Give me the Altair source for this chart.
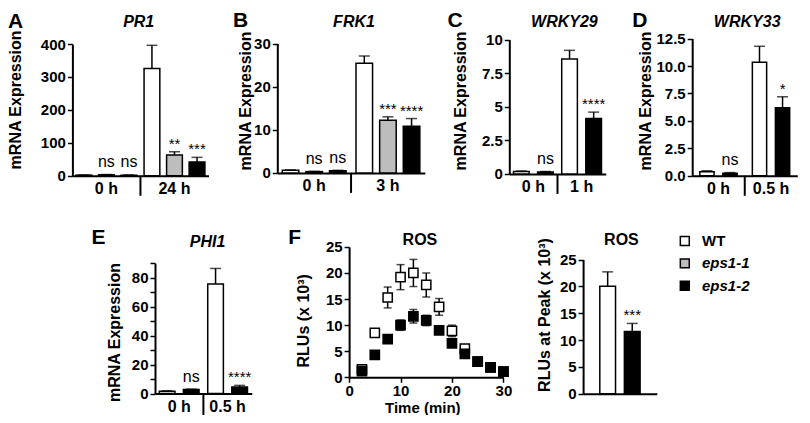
import altair as alt
import pandas as pd

FONT = "Liberation Sans, Arial, Helvetica, sans-serif"
W, H = 794, 407


def cx(rx):
    return round((rx - 3) * 0.983, 1)


def cy(ry):
    return round((ry - 0.5) * 0.973, 1)


GENO3 = ["WT", "eps1-1", "eps1-2"]
GENO2 = ["WT", "eps1-2"]
FILLS = ["#ffffff", "#bdbdbd", "#000000"]

# A  PR1
pr1_groups = ["0 h", "24 h"]
pr1_mean = [2, 3, 2, 326, 63, 42]
pr1_err = [0.6, 0.8, 0.6, 70, 10, 14]
pr1_sig = ["", "ns", "ns", "", "**", "***"]

# B  FRK1
frk1_groups = ["0 h", "3 h"]
frk1_mean = [0.6, 0.3, 0.5, 25.4, 12.2, 10.8]
frk1_err = [0.1, 0.05, 0.1, 1.7, 0.8, 1.8]
frk1_sig = ["", "ns", "ns", "", "***", "****"]

# C  WRKY29
wrky29_groups = ["0 h", "1 h"]
wrky29_mean = [0.18, 0.15, 8.55, 4.13]
wrky29_err = [0.03, 0.03, 0.65, 0.47]
wrky29_sig = ["", "ns", "", "****"]

# D  WRKY33
wrky33_groups = ["0 h", "0.5 h"]
wrky33_mean = [0.38, 0.24, 10.35, 6.2]
wrky33_err = [0.08, 0.05, 1.45, 1.0]
wrky33_sig = ["", "ns", "", "*"]

# E  PHI1
phi1_groups = ["0 h", "0.5 h"]
phi1_mean = [1.6, 2.7, 75.6, 4.5]
phi1_err = [0.3, 0.3, 10.7, 1.1]
phi1_sig = ["", "ns", "", "****"]

# F  ROS time course
ros_time = [2.5, 5, 7.5, 10, 12.5, 15, 17.5, 20, 22.5, 25, 27.5, 30]
ros_wt = [1.5, 8.5, 15.3, 19.2, 20.0, 17.7, 13.5, 8.9, 5.5, 3.0, 1.9, 1.1]
ros_wt_err = [0.3, 0.7, 2.0, 2.4, 2.6, 2.3, 1.6, 1.1, 0.5, 0.3, 0.2, 0.2]
ros_eps = [1.2, 4.3, 7.3, 10.0, 11.7, 10.9, 9.0, 6.5, 4.5, 3.0, 1.9, 1.1]
ros_eps_err = [0.2, 0.4, 0.6, 1.0, 1.3, 1.0, 0.6, 0.5, 0.4, 0.3, 0.2, 0.2]

# F  ROS at peak
peak_mean = [20.0, 11.6]
peak_err = [2.7, 1.5]
peak_sig = ["", "***"]

fill_scale = alt.Scale(domain=GENO3, range=FILLS)

AXSTYLE = dict(labelFont=FONT, labelFontSize=15, labelFontWeight="bold",
               labelColor="black", domainColor="black", domainWidth=2,
               tickColor="black", tickWidth=1.5, tickSize=5, grid=False,
               labelPadding=2, labelFlush=False, labelOverlap=False, title=None)


def axis(**kw):
    d = dict(AXSTYLE)
    d.update(kw)
    return alt.Axis(**d)


def bar_panel(groups, genos, mean, err, sig, xr, y0, ytop, ymax, ticks, fmt,
              pi, po, div_len=20, label_expr=None):
    df = pd.DataFrame({
        "t": [g for g in groups for _ in genos],
        "g": genos * len(groups),
        "v": mean, "e": err, "s": sig})
    df["top"] = df["v"] + df["e"]
    xs = alt.Scale(domain=groups, range=[cx(xr[0]), cx(xr[1])],
                   paddingInner=0, paddingOuter=0)
    offs = alt.Scale(domain=genos, paddingInner=pi, paddingOuter=po)
    ys = alt.Scale(domain=[0, ymax], range=[cy(y0), cy(ytop)], nice=False, zero=True)
    x_ax = alt.X("t:N", sort=groups, scale=xs,
                 axis=axis(orient="bottom", offset=round(cy(y0) - H, 1), ticks=False,
                           tickSize=0, labelAngle=0, labelPadding=5, labelFontSize=16))
    x_no = alt.X("t:N", sort=groups, scale=xs)
    xo = alt.XOffset("g:N", sort=genos, scale=offs)
    yk = dict(orient="left", offset=-cx(xr[0]), values=ticks)
    if fmt:
        yk["format"] = fmt
    if label_expr:
        yk["labelExpr"] = label_expr
    base = alt.Chart(df)
    bars = base.mark_bar(stroke="black", strokeWidth=1.5).encode(
        x=x_ax, xOffset=xo, y=alt.Y("v:Q", scale=ys, axis=axis(**yk)),
        fill=alt.Fill("g:N", scale=fill_scale, legend=None))
    rule = base.mark_rule(color="black", strokeWidth=1.5).encode(
        x=x_no, xOffset=xo, y=alt.Y("v:Q", scale=ys), y2="top:Q")
    cap = base.mark_tick(color="black", thickness=1.5, size=11, orient="horizontal").encode(
        x=x_no, xOffset=xo, y=alt.Y("top:Q", scale=ys))
    ns = base.transform_filter("datum.s == 'ns'").mark_text(
        font=FONT, fontSize=16, baseline="alphabetic", dy=-7.5, color="black").encode(
        x=x_no, xOffset=xo, y=alt.Y("top:Q", scale=ys), text="s:N")
    stars = base.transform_filter("datum.s != 'ns' && datum.s != ''").mark_text(
        font=FONT, fontSize=15, baseline="alphabetic", dy=-3, color="black").encode(
        x=x_no, xOffset=xo, y=alt.Y("top:Q", scale=ys), text="s:N")
    div = alt.Chart(pd.DataFrame({"t": [groups[1]]})).mark_rule(
        color="black", strokeWidth=2).encode(
        x=alt.X("t:N", sort=groups, scale=xs, bandPosition=0),
        y=alt.value(cy(y0)), y2=alt.value(round(cy(y0) + div_len, 1)))
    return alt.layer(bars, rule, cap, ns, stars, div)


def ros_line():
    n = len(ros_time)
    df = pd.DataFrame({"t": ros_time * 2, "g": ["WT"] * n + ["eps1-2"] * n,
                       "v": ros_wt + ros_eps, "e": ros_wt_err + ros_eps_err})
    df["lo"] = df["v"] - df["e"]
    df["hi"] = df["v"] + df["e"]
    xs = alt.Scale(domain=[0, 30], range=[cx(350), cx(507)], nice=False, zero=False)
    ys = alt.Scale(domain=[0, 25], range=[cy(380), cy(246)], nice=False)
    layers = []
    for i, g in enumerate(GENO2):
        sub = alt.Chart(df).transform_filter(alt.datum.g == g)
        if i == 0:
            xenc = alt.X("t:Q", scale=xs, axis=axis(
                orient="bottom", offset=round(cy(380) - H, 1), values=[0, 10, 20, 30],
                labelPadding=1))
            yenc = alt.Y("lo:Q", scale=ys, axis=axis(
                orient="left", offset=-cx(350), values=[0, 5, 10, 15, 20, 25]))
        else:
            xenc = alt.X("t:Q", scale=xs)
            yenc = alt.Y("lo:Q", scale=ys)
        xn = alt.X("t:Q", scale=xs)
        layers.append(sub.mark_rule(color="black", strokeWidth=1.5).encode(
            x=xenc, y=yenc, y2="hi:Q"))
        for f in ["lo", "hi"]:
            layers.append(sub.mark_tick(color="black", thickness=1.5, size=8,
                                        orient="horizontal").encode(
                x=xn, y=alt.Y(f + ":Q", scale=ys)))
        layers.append(sub.mark_square(size=85, stroke="black", strokeWidth=1.5,
                                      opacity=1).encode(
            x=xn, y=alt.Y("v:Q", scale=ys),
            fill=alt.Fill("g:N", scale=fill_scale, legend=None)))
    return alt.layer(*layers)


def ros_peak():
    df = pd.DataFrame({"g": GENO2, "v": peak_mean, "e": peak_err, "s": peak_sig})
    df["top"] = df["v"] + df["e"]
    xs = alt.Scale(domain=GENO2, range=[cx(588), cx(663)], paddingInner=0.36,
                   paddingOuter=0.68)
    ys = alt.Scale(domain=[0, 25], range=[cy(397), cy(259)], nice=False)
    xn = alt.X("g:N", sort=GENO2, scale=xs)
    base = alt.Chart(df)
    bars = base.mark_bar(stroke="black", strokeWidth=1.5).encode(
        x=alt.X("g:N", sort=GENO2, scale=xs, axis=axis(
            orient="bottom", offset=round(cy(397) - H, 1), labels=False, ticks=False,
            tickSize=0)),
        y=alt.Y("v:Q", scale=ys, axis=axis(
            orient="left", offset=-cx(588), values=[0, 5, 10, 15, 20, 25])),
        fill=alt.Fill("g:N", scale=fill_scale, legend=None))
    rule = base.mark_rule(color="black", strokeWidth=1.5).encode(
        x=xn, y=alt.Y("v:Q", scale=ys), y2="top:Q")
    cap = base.mark_tick(color="black", thickness=1.5, size=11, orient="horizontal").encode(
        x=xn, y=alt.Y("top:Q", scale=ys))
    stars = base.transform_filter("datum.s != ''").mark_text(
        font=FONT, fontSize=15, baseline="alphabetic", dy=-3, color="black").encode(
        x=xn, y=alt.Y("top:Q", scale=ys), text="s:N")
    return alt.layer(bars, rule, cap, stars)


def legend():
    df = pd.DataFrame({"g": GENO3})
    ys = alt.Scale(type="point", domain=GENO3, range=[cy(240), cy(286)], padding=0)
    yenc = alt.Y("g:N", scale=ys, axis=None)
    sq = alt.Chart(df).mark_square(size=80, stroke="black", strokeWidth=1.5,
                                   opacity=1).encode(
        x=alt.value(cx(691.5)), y=yenc,
        fill=alt.Fill("g:N", scale=fill_scale, legend=None))
    t1 = alt.Chart(df).transform_filter("datum.g == 'WT'").mark_text(
        font=FONT, align="left", baseline="middle", fontSize=15, fontWeight="bold",
        color="black").encode(x=alt.value(cx(709)), y=yenc, text="g:N")
    t2 = alt.Chart(df).transform_filter("datum.g != 'WT'").mark_text(
        font=FONT, align="left", baseline="middle", fontSize=15, fontWeight="bold",
        fontStyle="italic", color="black").encode(x=alt.value(cx(709)), y=yenc, text="g:N")
    return alt.layer(sq, t1, t2)


dummy = pd.DataFrame({"k": [0]})


def label(txt, rx, ry, size, weight="bold", style="normal", align="center",
          baseline="alphabetic", angle=0):
    return alt.Chart(dummy).mark_text(
        font=FONT, fontSize=size, fontWeight=weight, fontStyle=style, align=align,
        baseline=baseline, angle=angle, color="black").encode(
        x=alt.value(cx(rx)), y=alt.value(cy(ry)), text=alt.value(txt))


layers = [
    bar_panel(pr1_groups, GENO3, pr1_mean, pr1_err, pr1_sig, [68.5, 207], 173, 37.5,
              400, [0, 100, 200, 300, 400], "d", 0.3, 0.16),
    bar_panel(frk1_groups, GENO3, frk1_mean, frk1_err, frk1_sig, [277, 427], 170, 37,
              30, [0, 10, 20, 30], "d", 0.3, 0.21),
    bar_panel(wrky29_groups, GENO2, wrky29_mean, wrky29_err, wrky29_sig, [513, 611],
              171, 33, 10, [0, 2.5, 5, 7.5, 10], ".1~f", 0.35, 0.175),
    bar_panel(wrky33_groups, GENO2, wrky33_mean, wrky33_err, wrky33_sig, [699, 806],
              173, 32, 12.5, [0, 2.5, 5, 7.5, 10, 12.5], ".1f", 0.38, 0.33),
    bar_panel(phi1_groups, GENO2, phi1_mean, phi1_err, phi1_sig, [152.5, 251],
              396.7, 262.7, 90, list(range(0, 100, 10)), "d", 0.35, 0.18,
              div_len=22, label_expr="datum.value % 20 === 0 ? datum.label : ''"),
    ros_line(),
    ros_peak(),
    legend(),
    # panel letters
    label("A", 3, 21, 21, align="left"),
    label("B", 232, 20, 21, align="left"),
    label("C", 450, 20, 21, align="left"),
    label("D", 638, 20, 21, align="left"),
    label("E", 88, 243, 21, align="left"),
    label("F", 288, 243, 21, align="left"),
    # panel titles
    label("PR1", 136, 20, 16, style="italic"),
    label("FRK1", 355, 20, 16, style="italic"),
    label("WRKY29", 569, 20, 16, style="italic"),
    label("WRKY33", 755, 20, 16, style="italic"),
    label("PHI1", 206, 246, 16, style="italic"),
    label("ROS", 422, 244, 16),
    label("ROS", 627, 244, 16),
    # axis titles
    label("mRNA Expression", 11, 95, 16, baseline="middle", angle=270),
    label("mRNA Expression", 245.5, 96, 16, baseline="middle", angle=270),
    label("mRNA Expression", 463.5, 96, 16, baseline="middle", angle=270),
    label("mRNA Expression", 652, 96, 16, baseline="middle", angle=270),
    label("mRNA Expression", 111.5, 334, 16, baseline="middle", angle=270),
    label("RLUs (x 10³)", 304.5, 322, 16, baseline="middle", angle=270),
    label("RLUs at Peak (x 10³)", 549.5, 316, 16, baseline="middle", angle=270),
    label("Time (min)", 425, 416.5, 15),
]

chart = (
    alt.layer(*layers)
    .resolve_scale(x="independent", y="independent", xOffset="independent")
    .resolve_axis(x="independent", y="independent")
    .properties(width=W, height=H, padding=0,
                autosize=alt.AutoSizeParams(type="none"))
    .configure_view(stroke=None)
)

chart.save("out.html", embed_options={"renderer": "svg", "actions": False})
